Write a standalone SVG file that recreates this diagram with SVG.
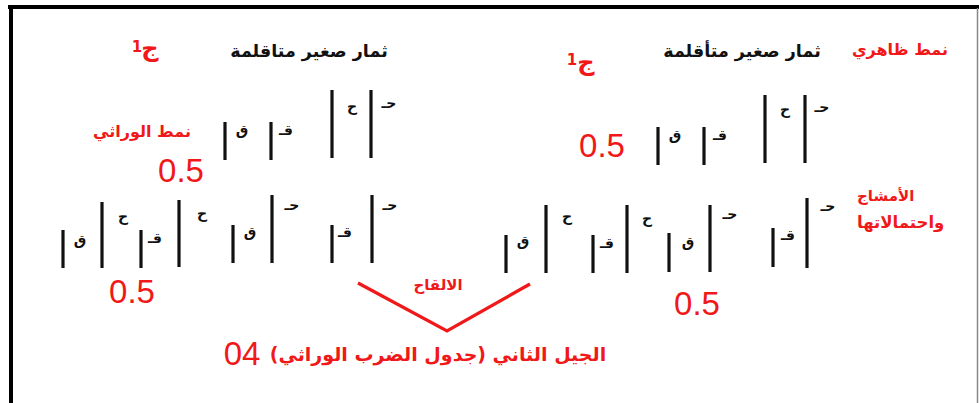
<svg xmlns="http://www.w3.org/2000/svg" width="979" height="403" viewBox="0 0 979 403">
<style>
.bar{stroke:#111;stroke-width:3.2;stroke-linecap:butt}
.al{font-family:"DejaVu Sans",sans-serif;font-weight:bold;font-size:14px;fill:#111;text-anchor:middle}
.red{font-family:"DejaVu Sans",sans-serif;font-weight:bold;fill:#f01818}
.num{font-family:"Liberation Sans","Open Sans",sans-serif;font-size:33px;fill:#f01818;text-anchor:middle}
.title{font-family:"DejaVu Sans",sans-serif;font-weight:bold;font-size:17.5px;fill:#111;text-anchor:middle}
.conn{stroke:#f01818;stroke-width:3.2;fill:none;stroke-linejoin:miter}
</style>
<rect x="0" y="0" width="979" height="403" fill="#fff"/>
<g id="frame">
<line x1="8" y1="7" x2="979" y2="7" stroke="#000" stroke-width="4"/>
<line x1="11" y1="5" x2="11" y2="403" stroke="#000" stroke-width="4"/>
<line x1="977.5" y1="8" x2="977.5" y2="403" stroke="#888" stroke-width="1.5"/>
</g>

<g id="labels">
<text class="red" x="900" y="55" font-size="16" text-anchor="middle">نمط ظاهري</text>
<text class="red" x="142" y="137" font-size="16" text-anchor="middle">نمط الوراثي</text>
<text class="red" x="857" y="201" font-size="15">الأمشاج</text>
<text class="red" x="857" y="228" font-size="16.5">واحتمالاتها</text>
</g>

<g id="phenotype-left">
<text class="red" x="150" y="56" font-size="24" text-anchor="middle">ج</text>
<text class="red" x="137" y="52" font-size="15" text-anchor="middle">1</text>
<text class="title" x="309" y="57">ثمار صغير متاقلمة</text>
</g>
<g id="phenotype-right">
<text class="red" x="586" y="70" font-size="24" text-anchor="middle">ج</text>
<text class="red" x="572" y="65" font-size="15" text-anchor="middle">1</text>
<text class="title" x="742" y="57">ثمار صغير متأقلمة</text>
</g>

<g id="genotype-left">
<line class="bar" x1="225" y1="122" x2="225" y2="160"/>
<text class="al" x="242" y="135">ق</text>
<line class="bar" x1="271" y1="122" x2="271" y2="160"/>
<text class="al" x="286" y="135">قـ</text>
<line class="bar" x1="332" y1="90" x2="332" y2="158"/>
<text class="al" x="352" y="112">ح</text>
<line class="bar" x1="371" y1="90" x2="371" y2="158"/>
<text class="al" x="389" y="108">حـ</text>
<text class="num" x="181" y="182">0.5</text>
</g>

<g id="genotype-right">
<line class="bar" x1="658" y1="127" x2="658" y2="165"/>
<text class="al" x="675" y="140">ق</text>
<line class="bar" x1="704" y1="127" x2="704" y2="165"/>
<text class="al" x="720" y="140">قـ</text>
<line class="bar" x1="765" y1="95" x2="765" y2="163"/>
<text class="al" x="785" y="115">ح</text>
<line class="bar" x1="805" y1="95" x2="805" y2="163"/>
<text class="al" x="822" y="112">حـ</text>
<text class="num" x="602" y="157">0.5</text>
</g>

<g id="gametes-left">
<line class="bar" x1="63" y1="230" x2="63" y2="268"/>
<text class="al" x="80" y="245">ق</text>
<line class="bar" x1="102" y1="202" x2="102" y2="268"/>
<text class="al" x="123" y="222">ح</text>
<line class="bar" x1="141" y1="230" x2="141" y2="268"/>
<text class="al" x="155" y="243">قـ</text>
<line class="bar" x1="179" y1="200" x2="179" y2="267"/>
<text class="al" x="202" y="219">ح</text>
<line class="bar" x1="233" y1="225" x2="233" y2="263"/>
<text class="al" x="250" y="237">ق</text>
<line class="bar" x1="272" y1="195" x2="272" y2="263"/>
<text class="al" x="292" y="210">حـ</text>
<line class="bar" x1="332" y1="225" x2="332" y2="263"/>
<text class="al" x="345" y="237">قـ</text>
<line class="bar" x1="372" y1="195" x2="372" y2="263"/>
<text class="al" x="390" y="210">حـ</text>
<text class="num" x="132" y="303">0.5</text>
</g>

<g id="gametes-right">
<line class="bar" x1="506" y1="235" x2="506" y2="273"/>
<text class="al" x="523" y="246">ق</text>
<line class="bar" x1="546" y1="205" x2="546" y2="273"/>
<text class="al" x="567" y="222">ح</text>
<line class="bar" x1="593" y1="235" x2="593" y2="273"/>
<text class="al" x="607" y="248">قـ</text>
<line class="bar" x1="627" y1="205" x2="627" y2="273"/>
<text class="al" x="647" y="224">ح</text>
<line class="bar" x1="669" y1="233" x2="669" y2="272"/>
<text class="al" x="688" y="247">ق</text>
<line class="bar" x1="710" y1="205" x2="710" y2="272"/>
<text class="al" x="730" y="219">حـ</text>
<line class="bar" x1="773" y1="228" x2="773" y2="267"/>
<text class="al" x="788" y="240">قـ</text>
<line class="bar" x1="807" y1="198" x2="807" y2="268"/>
<text class="al" x="828" y="211">حـ</text>
<text class="num" x="697" y="315">0.5</text>
</g>

<g id="connectors">
<polyline class="conn" points="358,283 447,331 530,284"/>
</g>

<g id="fertilization">
<text class="red" x="438" y="290" font-size="15" text-anchor="middle">الالقاح</text>
</g>

<g id="second-generation">
<text class="num" x="242" y="365">04</text>
<text class="red" x="438" y="361" font-size="19" text-anchor="middle" direction="rtl">الجيل الثاني (جدول الضرب الوراثي)</text>
</g>
</svg>
